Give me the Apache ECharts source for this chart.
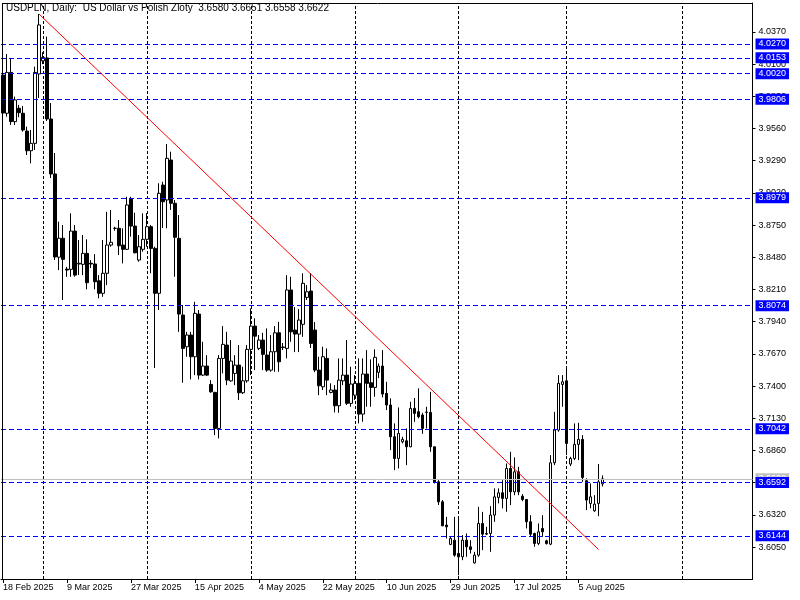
<!DOCTYPE html>
<html>
<head>
<meta charset="utf-8">
<script src="https://cdn.jsdelivr.net/npm/echarts@6/dist/echarts.min.js"></script>
<style>html,body{margin:0;padding:0;background:#fff}#c{width:800px;height:600px}</style>
</head>
<body>
<div id="c"></div>
<script>
// ---------- DATA ----------
const symbolTitle = 'USDPLN, Daily:  US Dollar vs Polish Zloty';
const monthNames = ['Jan','Feb','Mar','Apr','May','Jun','Jul','Aug','Sep','Oct','Nov','Dec'];

// trading days (broker shows Sunday bars, no Saturday bars)
const febDays = [18,19,20,21,23,24,25,26,27,28];
const marDays = [2,3,4,5,6,7,9,10,11,12,13,14,16,17,18,19,20,21,23,24,25,26,27,28,30,31];
const aprDays = [1,2,3,4,6,7,8,9,10,11,13,14,15,16,17,18,20,21,22,23,24,25,27,28,29,30];
const mayDays = [1,2,4,5,6,7,8,9,11,12,13,14,15,16,18,19,20,21,22,23,25,26,27,28,29,30];
const junDays = [1,2,3,4,5,6,8,9,10,11,12,13,15,16,17,18,19,20,22,23,24,25,26,27,29,30];
const julDays = [1,2,3,4,6,7,8,9,10,11,13,14,15,16,17,18,20,21,22,23,24,25,27,28,29,30,31];
const augDays = [1,3,4,5,6,7,8,10,11,12];
// empty future area on the right of the chart (calendar days)
const futureAugDays = [13,14,15,16,17,18,19,20,21,22,23,24,25,26,27,28,29,30,31];
const futureSepDays = [1,2,3,4,5,6,7,8,9,10,11,12,13,14,15,16,17,18];

const opens = [
4.0009,3.9688,4.0031,3.9618,3.9730,3.9688,3.9539,3.9374,3.9436,4.0018,
4.0128,4.0152,3.9640,3.9179,3.8481,3.8640,3.8381,3.8379,3.8700,3.8424,
3.8421,3.8513,3.8430,3.8424,3.8283,3.8178,3.8346,3.8583,3.8724,3.8723,
3.8583,3.8547,3.8966,3.8742,3.8457,3.8547,3.8631,3.8737,3.8555,3.8178,
3.9086,3.8961,3.9296,3.8933,3.8639,3.7996,3.7730,3.7828,3.7646,3.8004,
3.7492,3.7568,3.7414,3.7347,3.7045,3.7632,3.7744,3.7444,3.7506,3.7576,
3.7344,3.7444,3.7708,3.7903,3.7716,3.7786,3.7660,3.7534,3.7688,3.7847,
3.7728,3.7716,3.8206,3.7870,3.7836,3.7918,3.8144,3.8197,3.7870,3.7534,
3.7394,3.7632,3.7347,3.7367,3.7235,3.7444,3.7492,3.7255,3.7324,3.7423,
3.7165,3.7501,3.7428,3.7389,3.7515,3.7568,3.7339,3.7241,3.6975,3.6793,
3.6933,3.6941,3.6891,3.7213,3.7185,3.7157,3.7179,3.7179,3.6891,3.6597,
3.6429,3.6234,3.6072,3.6108,3.5996,3.5968,3.6108,3.6052,3.5917,3.5982,
3.6248,3.6158,3.6164,3.6318,3.6466,3.6505,3.6458,3.6709,3.6513,3.6681,
3.6477,3.6449,3.6262,3.6164,3.6080,3.6206,3.6102,3.6074,3.6757,3.7031,
3.7414,3.7444,3.6746,3.6793,3.6911,3.6953,3.6606,3.6416,3.6354,3.6416,
3.6580];
const highs = [
4.0177,4.0185,4.0152,3.9828,3.9758,3.9749,3.9576,3.9548,4.0079,4.0521,
4.0200,4.0331,3.9774,3.9355,3.8779,3.8751,3.8400,3.8849,3.8751,3.8625,
3.8667,3.8631,3.8457,3.8507,3.8331,3.8625,3.8862,3.8877,3.8737,3.8793,
3.8723,3.8988,3.8988,3.8854,3.8667,3.8849,3.8851,3.8751,3.8569,3.9101,
3.9114,3.9430,3.9366,3.8961,3.8835,3.8080,3.7855,3.7855,3.8107,3.8038,
3.7772,3.7660,3.7450,3.7352,3.7660,3.7903,3.7855,3.7786,3.7660,3.7744,
3.7562,3.7744,3.8052,3.7968,3.7828,3.7847,3.7884,3.7828,3.7903,3.7939,
3.7761,3.8331,3.8317,3.8063,3.8046,3.8346,3.8247,3.8348,3.7937,3.7646,
3.7730,3.7716,3.7423,3.7408,3.7632,3.7632,3.7786,3.7562,3.7492,3.7632,
3.7632,3.7702,3.7624,3.7708,3.7590,3.7702,3.7436,3.7297,3.7087,3.7221,
3.6975,3.7045,3.7268,3.7300,3.7381,3.7176,3.7227,3.7352,3.6891,3.6611,
3.6444,3.6303,3.6136,3.6303,3.6303,3.6150,3.6164,3.6108,3.6010,3.6387,
3.6345,3.6220,3.6393,3.6542,3.6542,3.6611,3.6751,3.6849,3.6802,3.6723,
3.6494,3.6449,3.6318,3.6170,3.6248,3.6318,3.6112,3.6821,3.7184,3.7492,
3.7492,3.7562,3.6807,3.7087,3.7092,3.6989,3.6626,3.6583,3.6485,3.6746,
3.6651];
const lows = [
3.9648,3.9660,3.9590,3.9590,3.9655,3.9534,3.9338,3.9268,3.9380,3.9816,
4.0100,3.9623,3.9145,3.8457,3.8373,3.8122,3.8316,3.8317,3.8317,3.8331,
3.8331,3.8211,3.8390,3.8211,3.8136,3.8149,3.8247,3.8569,3.8703,3.8499,
3.8429,3.8541,3.8653,3.8513,3.8443,3.8527,3.8569,3.8346,3.7551,3.8038,
3.8726,3.8723,3.8877,3.8317,3.7855,3.7428,3.7646,3.7456,3.7492,3.7456,
3.7484,3.7484,3.7344,3.6989,3.6961,3.7506,3.7408,3.7436,3.7408,3.7283,
3.7333,3.7428,3.7492,3.7534,3.7702,3.7534,3.7520,3.7520,3.7520,3.7520,
3.7702,3.7632,3.7772,3.7685,3.7685,3.7813,3.8122,3.7719,3.7517,3.7324,
3.7367,3.7324,3.7339,3.7179,3.7176,3.7408,3.7241,3.7227,3.7283,3.7087,
3.7101,3.7227,3.7227,3.7310,3.7467,3.7305,3.7199,3.6863,3.6695,3.6709,
3.6919,3.6737,3.6887,3.7100,3.7129,3.7000,3.7045,3.6849,3.6583,3.6402,
3.6225,3.6122,3.6066,3.5968,3.5814,3.5940,3.5968,3.5996,3.5912,3.5968,
3.6024,3.6150,3.6010,3.6262,3.6416,3.6374,3.6345,3.6402,3.6485,3.6485,
3.6435,3.6206,3.6136,3.6052,3.6066,3.6136,3.6070,3.6066,3.6737,3.7017,
3.7227,3.6821,3.6729,3.6779,3.6779,3.6597,3.6360,3.6374,3.6345,3.6309,
3.6558];
const closes = [
3.9690,4.0031,3.9618,3.9800,3.9693,3.9548,3.9374,3.9436,4.0031,4.0429,
4.0157,3.9640,3.9179,3.8483,3.8640,3.8463,3.8373,3.8700,3.8331,3.8430,
3.8513,3.8267,3.8424,3.8275,3.8178,3.8346,3.8583,3.8606,3.8723,3.8577,
3.8547,3.8919,3.8742,3.8518,3.8569,3.8631,3.8737,3.8555,3.8178,3.9017,
3.8946,3.9310,3.8933,3.8648,3.8004,3.7716,3.7828,3.7646,3.8010,3.7492,
3.7568,3.7492,3.7352,3.7045,3.7632,3.7750,3.7450,3.7610,3.7576,3.7344,
3.7444,3.7708,3.7903,3.7819,3.7786,3.7666,3.7534,3.7688,3.7847,3.7604,
3.7723,3.8206,3.7855,3.7836,3.7954,3.8262,3.8191,3.7758,3.7534,3.7403,
3.7646,3.7450,3.7367,3.7235,3.7450,3.7492,3.7255,3.7417,3.7423,3.7165,
3.7501,3.7423,3.7389,3.7641,3.7568,3.7333,3.7241,3.6975,3.6793,3.7003,
3.6953,3.6891,3.7213,3.7171,3.7143,3.7045,3.7182,3.6891,3.6597,3.6429,
3.6228,3.6220,3.6122,3.5982,3.5968,3.6108,3.6052,3.6030,3.5982,3.6248,
3.6158,3.6164,3.6318,3.6471,3.6505,3.6458,3.6709,3.6513,3.6681,3.6513,
3.6449,3.6262,3.6158,3.6080,3.6178,3.6178,3.6080,3.6757,3.7031,3.7423,
3.7436,3.6919,3.6793,3.6911,3.6953,3.6634,3.6444,3.6471,3.6410,3.6597,
3.6622];

// price axis
const yMin = 3.5782, yMax = 4.0613;
const yTickValues = [4.0370,4.0100,3.9830,3.9560,3.9290,3.9020,3.8750,3.8480,3.8210,3.7940,3.7670,3.7400,3.7130,3.6860,3.6590,3.6320,3.6050];
// horizontal levels (blue) and trend line end points
const levelValues = [4.0270,4.0153,4.0020,3.9806,3.8979,3.8074,3.7042,3.6592,3.6144];
const trendStart = [9, 4.0521];
const trendEnd = [149, 3.6029];
// time-axis labels every 16 bars
const xLabelIndex = [0,16,32,48,64,80,96,112,128,144];

// ---------- BUILD ----------
const FONT = '"Liberation Sans", Arial, sans-serif';
const categories = [];
[['2025-02',febDays],['2025-03',marDays],['2025-04',aprDays],['2025-05',mayDays],
 ['2025-06',junDays],['2025-07',julDays],['2025-08',augDays],
 ['2025-08',futureAugDays],['2025-09',futureSepDays]].forEach(([ym, ds]) => {
  ds.forEach(d => categories.push(ym + '-' + String(d).padStart(2,'0')));
});
const monthStartIdx = [];
for (let i = 1; i < categories.length; i++) {
  if (categories[i].slice(0,7) !== categories[i-1].slice(0,7)) monthStartIdx.push(i);
}
const fmtDate = v => { const p = v.split('-'); return (+p[2]) + ' ' + monthNames[+p[1]-1] + ' ' + p[0]; };
const candleData = opens.map((o, i) => [o, closes[i], lows[i], highs[i]]);
const last = opens.length - 1;
const titleText = symbolTitle + '  ' + [opens[last], highs[last], lows[last], closes[last]].map(v => v.toFixed(4)).join(' ');

const levelLabel = (bg) => ({
  show: true, position: 'end', distance: 3,
  formatter: p => (+p.value).toFixed(4),
  color: '#ffffff', backgroundColor: bg, padding: [1, 3, 0, 3],
  fontSize: 9, fontFamily: FONT, lineHeight: 10
});

const chart = echarts.init(document.getElementById('c'), null, {renderer: 'canvas'});
chart.setOption({
  animation: false,
  backgroundColor: '#ffffff',
  title: {
    text: titleText, left: 6, top: 3, padding: 0,
    textStyle: {fontSize: 10, fontWeight: 'normal', color: '#000', fontFamily: FONT}
  },
  grid: {left: 0.5, right: 47.5, top: 3, bottom: 21, show: false},
  xAxis: {
    type: 'category', data: categories, boundaryGap: true,
    axisLine: {show: true, lineStyle: {color: '#000', width: 1}},
    axisTick: {show: true, alignWithLabel: true, length: 4,
      interval: (i) => xLabelIndex.indexOf(i) >= 0, lineStyle: {color: '#000'}},
    axisLabel: {show: true, interval: (i) => xLabelIndex.indexOf(i) >= 0,
      formatter: fmtDate, align: 'left', margin: 4, color: '#000', fontSize: 9, fontFamily: FONT},
    splitLine: {show: false}
  },
  yAxis: {
    type: 'value', position: 'right', min: yMin, max: yMax, scale: true,
    axisLine: {show: true, lineStyle: {color: '#000', width: 1}},
    axisTick: {show: true, length: 3, customValues: yTickValues, lineStyle: {color: '#000'}},
    axisLabel: {show: true, customValues: yTickValues, formatter: v => (+v).toFixed(4),
      margin: 6, color: '#000', fontSize: 9, fontFamily: FONT},
    splitLine: {show: false}
  },
  graphic: [
    {type: 'line', shape: {x1: 2.5, y1: 3, x2: 2.5, y2: 579}, style: {stroke: '#000', lineWidth: 1}, z: 100},
    {type: 'line', shape: {x1: 2, y1: 3.5, x2: 753, y2: 3.5}, style: {stroke: '#000', lineWidth: 1}, z: 100}
  ],
  series: [
    {
      type: 'line', data: [], silent: true, z: 1,
      markLine: {
        z: 1, silent: true, symbol: 'none', animation: false,
        label: {show: false},
        lineStyle: {color: '#000', type: [3, 2], width: 1},
        emphasis: {disabled: true},
        data: monthStartIdx.map(i => ({xAxis: i}))
      }
    },
    {
      type: 'candlestick', data: candleData, barWidth: 3, z: 2, clip: true,
      itemStyle: {color: '#ffffff', color0: '#000000', borderColor: '#000000', borderColor0: '#000000', borderWidth: 1},
      emphasis: {disabled: true},
      markLine: {
        z: 5, silent: true, symbol: 'none', animation: false, precision: 4,
        emphasis: {disabled: true},
        data: [
          {yAxis: closes[last], lineStyle: {color: '#c0c0c0', type: 'solid', width: 1}, label: levelLabel('#c0c0c0')}
        ].concat(levelValues.map(v => ({
          yAxis: v, lineStyle: {color: '#0000ff', type: [5, 3], width: 1}, label: levelLabel('#0000ff')
        }))).concat([
          [{coord: trendStart, lineStyle: {color: '#ff0000', type: 'solid', width: 1}, label: {show: false}},
           {coord: trendEnd}]
        ])
      }
    }
  ]
});
</script>
</body>
</html>
